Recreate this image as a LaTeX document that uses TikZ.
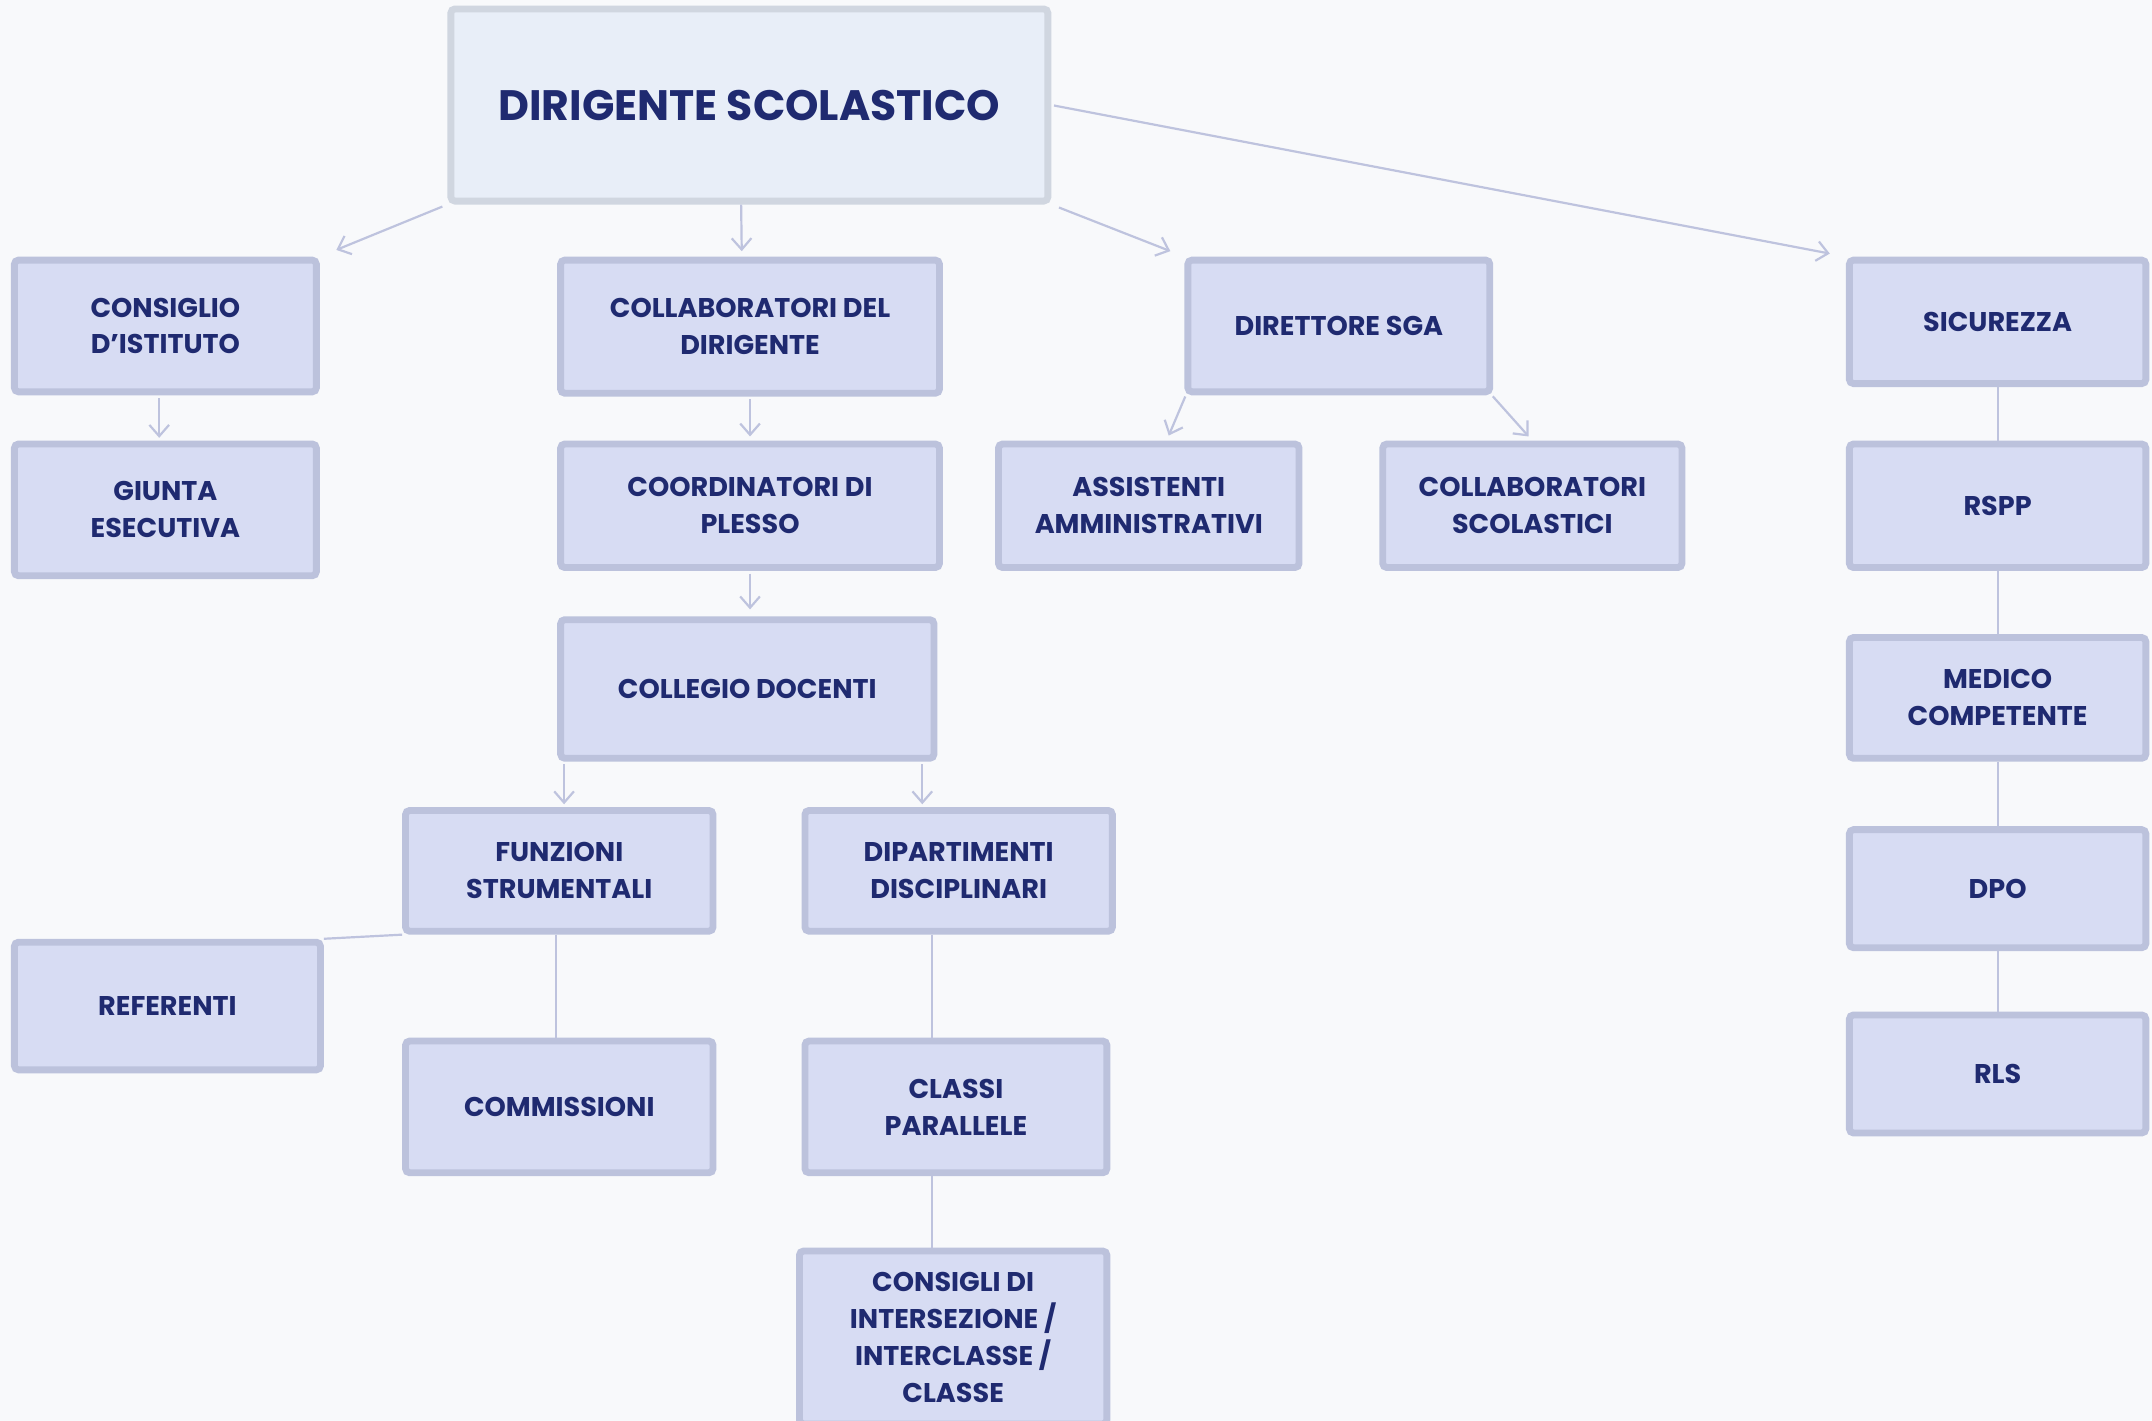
\documentclass[tikz,border=0pt]{standalone}
\usepackage{fontspec}
\setmainfont{Poppins}
\usetikzlibrary{arrows.meta}

\newlength\unitpx
\setlength\unitpx{0.013724cm}
\definecolor{bgcol}{HTML}{F8F9FB}
\definecolor{boxfill}{HTML}{D7DCF3}
\definecolor{boxline}{HTML}{BCC2DC}
\definecolor{topfill}{HTML}{E8EEF8}
\definecolor{topline}{HTML}{D0D6E0}
\definecolor{ink}{HTML}{1F2A70}
\definecolor{wirecol}{HTML}{BEC3DE}

\begin{document}
\begin{tikzpicture}[x=0.013724cm,y=-0.013724cm,>={Straight Barb[length=3.2pt,width=5.6pt]},
    unit/.style={draw=boxline,fill=boxfill,line width=5\unitpx,rounded corners=3\unitpx,
      text=ink,align=center,inner sep=0pt,font=\fontsize{7.7}{10.5}\selectfont\bfseries},
    head/.style={unit,draw=topline,fill=topfill,font=\fontsize{12.1}{14}\selectfont\bfseries},
    sz/.style 2 args={minimum width=#1\unitpx,minimum height=#2\unitpx},
    wire/.style={color=wirecol,line width=1.6\unitpx}]
    \useasboundingbox (0,0) rectangle (1568,1035);
    \fill[bgcol] (0,0) rectangle (1568,1035);

    \node[head,sz={435}{140}] (ds)   at (546,76.5)     {DIRIGENTE SCOLASTICO};
    \node[unit,sz={220}{96}]  (ci)   at (120.5,237.5)  {CONSIGLIO\\D'ISTITUTO};
    \node[unit,sz={220}{96}]  (ge)   at (120.5,371.5)  {GIUNTA\\ESECUTIVA};
    \node[unit,sz={276}{97}]  (cd)   at (546.5,238)    {COLLABORATORI DEL\\DIRIGENTE};
    \node[unit,sz={276}{90}]  (cp)   at (546.5,368.5)  {COORDINATORI DI\\PLESSO};
    \node[unit,sz={272}{101}] (cdoc) at (544.5,502)    {COLLEGIO DOCENTI};
    \node[unit,sz={224}{88}]  (fs)   at (407.5,634.5)  {FUNZIONI\\STRUMENTALI};
    \node[unit,sz={224}{88}]  (dd)   at (698.5,634.5)  {DIPARTIMENTI\\DISCIPLINARI};
    \node[unit,sz={223}{93}]  (ref)  at (122,733)      {REFERENTI};
    \node[unit,sz={224}{96}]  (com)  at (407.5,806.5)  {COMMISSIONI};
    \node[unit,sz={220}{96}]  (cpar) at (696.5,806.5)  {CLASSI\\PARALLELE};
    \node[unit,sz={224}{126}] (cic)  at (694.5,974.5)  {CONSIGLI DI\\INTERSEZIONE /\\INTERCLASSE /\\CLASSE};
    \node[unit,sz={220}{96}]  (dsga) at (975.5,237.5)  {DIRETTORE SGA};
    \node[unit,sz={219}{90}]  (aa)   at (837,368.5)    {ASSISTENTI\\AMMINISTRATIVI};
    \node[unit,sz={218}{90}]  (cs)   at (1116.5,368.5) {COLLABORATORI\\SCOLASTICI};
    \node[unit,sz={216}{90}]  (sic)  at (1455.5,234.5) {SICUREZZA};
    \node[unit,sz={216}{90}]  (rspp) at (1455.5,368.5) {RSPP};
    \node[unit,sz={216}{88}]  (mc)   at (1455.5,508.5) {MEDICO\\COMPETENTE};
    \node[unit,sz={216}{86}]  (dpo)  at (1455.5,647.5) {DPO};
    \node[unit,sz={216}{86}]  (rls)  at (1455.5,782.5) {RLS};

    % arrows
    \path[wire,->]
    (ds.south west) edge[shorten <=4\unitpx,shorten >=13\unitpx] (ci.north east)
    ([xshift=-6\unitpx]ds.south) edge[shorten >=4\unitpx] ([xshift=-6\unitpx]cd.north)
    (ds.south east) edge[shorten <=6\unitpx,shorten >=11\unitpx] (dsga.north west)
    (ds.east) edge[shorten <=2\unitpx,shorten >=12\unitpx] (sic.north west)
    ([xshift=-4.5\unitpx]ci.south) edge[shorten <=2\unitpx,shorten >=2\unitpx] ([xshift=-4.5\unitpx]ge.north)
    (cd.south) edge[shorten <=2\unitpx,shorten >=3\unitpx] (cp.north)
    (cp.south) edge[shorten <=2\unitpx,shorten >=5\unitpx] (cp.south |- cdoc.north)
    ([xshift=3.5\unitpx]fs.north |- cdoc.south) edge[shorten <=2\unitpx,shorten >=2\unitpx] ([xshift=3.5\unitpx]fs.north)
    ([xshift=-26.5\unitpx]dd.north |- cdoc.south) edge[shorten <=2\unitpx,shorten >=2\unitpx] ([xshift=-26.5\unitpx]dd.north)
    ([xshift=1\unitpx]dsga.south west) edge[shorten <=1\unitpx,shorten >=4\unitpx] ([xshift=13\unitpx]aa.north)
    ([xshift=-1\unitpx]dsga.south east) edge[shorten <=1\unitpx,shorten >=4\unitpx] (cs.north)
    ;

    % plain links
    \path[wire]
    (fs.south west) edge (ref.north east)
    ([xshift=-2.5\unitpx]fs.south) edge ([xshift=-2.5\unitpx]com.north)
    ([xshift=-19.5\unitpx]dd.south) edge ([xshift=-19.5\unitpx]dd.south |- cpar.north)
    ([xshift=-17.5\unitpx]cpar.south) edge ([xshift=-17.5\unitpx]cpar.south |- cic.north)
    (sic.south) edge (rspp.north)
    (rspp.south) edge (mc.north)
    (mc.south) edge (dpo.north)
    (dpo.south) edge (rls.north)
    ;
\end{tikzpicture}
\end{document}
